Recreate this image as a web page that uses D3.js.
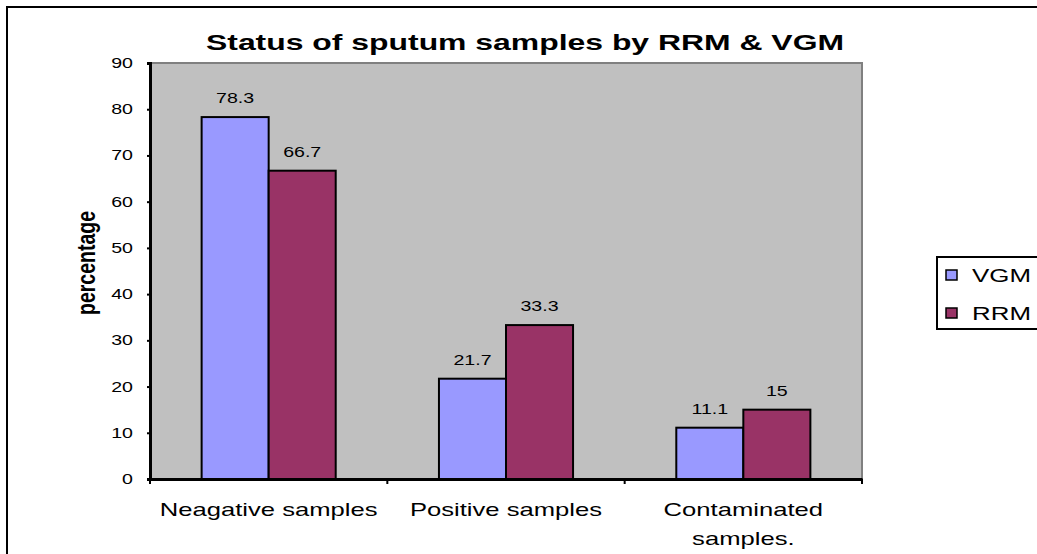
<!DOCTYPE html>
<html>
<head>
<meta charset="utf-8">
<script src="https://cdn.jsdelivr.net/npm/d3@7"></script>
<style>
    body { margin: 0; background: #fff; }
    text { font-family: "Liberation Sans", Arial, sans-serif; fill: #000; }
</style>
</head>
<body>
<div id="chart"></div>
<script>

var categories = ["Neagative samples", "Positive samples", "Contaminated samples."];
var seriesNames = ["VGM", "RRM"];
var vgmValues = [78.3, 21.7, 11.1];
var rrmValues = [66.7, 33.3, 15];
var yTicks = [0, 10, 20, 30, 40, 50, 60, 70, 80, 90];
var colors = ["#9999FF", "#993366"];

// the picture is stretched sideways, so text gets the same stretch
var sx = 1.4;

var plot = {left: 150, top: 63, right: 862, bottom: 479};

var svg = d3.select("#chart")
    .append("svg")
    .attr("width", 1037)
    .attr("height", 554);

// outer frame (cut off at right / bottom)
svg.append("rect")
    .attr("x", 7)
    .attr("y", 7)
    .attr("width", 1060)
    .attr("height", 580)
    .style("fill", "#fff")
    .style("stroke", "#000")
    .style("stroke-width", 2);

function label(g, txt, x, y, size, anchor, bold) {
    return g.append("text")
        .attr("transform", "translate(" + x + "," + y + ") scale(" + sx + ",1)")
        .attr("text-anchor", anchor)
        .style("font-size", size + "px")
        .style("font-weight", bold ? "bold" : "normal")
        .text(txt);
}

var xScale = d3.scaleBand()
    .domain(categories)
    .range([plot.left, plot.right]);

var xInner = d3.scaleBand()
    .domain(seriesNames)
    .range([0, xScale.bandwidth()])
    .paddingOuter(0.77);

var yScale = d3.scaleLinear()
    .domain([0, 90])
    .range([plot.bottom, plot.top]);

// plot area
svg.append("rect")
    .attr("x", plot.left)
    .attr("y", plot.top)
    .attr("width", plot.right - plot.left)
    .attr("height", plot.bottom - plot.top)
    .style("fill", "#C0C0C0")
    .style("stroke", "#808080")
    .style("stroke-width", 2);

// bars
var data = categories.map(function(c, i) {
    return {cat: c, values: [vgmValues[i], rrmValues[i]]};
});

var groups = svg.selectAll("g.group")
    .data(data)
    .enter()
    .append("g")
    .attr("class", "group")
    .attr("transform", function(d) { return "translate(" + xScale(d.cat) + ",0)"; });

groups.selectAll("rect")
    .data(function(d) { return d.values.map(function(v, j) { return {name: seriesNames[j], value: v, j: j}; }); })
    .enter()
    .append("rect")
    .attr("x", function(d) { return xInner(d.name); })
    .attr("y", function(d) { return yScale(d.value); })
    .attr("width", xInner.bandwidth())
    .attr("height", function(d) { return plot.bottom - yScale(d.value); })
    .style("fill", function(d) { return colors[d.j]; })
    .style("stroke", "#000")
    .style("stroke-width", 2);

groups.each(function(d) {
    var g = d3.select(this);
    d.values.forEach(function(v, j) {
        label(g, String(v), xInner(seriesNames[j]) + xInner.bandwidth() / 2, yScale(v) - 14, 14, "middle", false);
    });
});

// y axis
var yAxis = d3.axisLeft(yScale)
    .tickValues(yTicks)
    .tickSize(3)
    .tickPadding(12);

var yG = svg.append("g")
    .attr("class", "axis y-axis")
    .attr("transform", "translate(" + plot.left + ",0)")
    .call(yAxis);
yG.select(".domain").style("stroke", "#000").style("stroke-width", 3);
yG.selectAll(".tick line").style("stroke", "#000").style("stroke-width", 2);
yG.selectAll(".tick text").remove();
yTicks.forEach(function(t) {
    label(svg, t, 133, yScale(t) + 5, 14, "end", false);
});

// x axis
var xAxis = d3.axisBottom(xScale)
    .tickSize(0)
    .tickFormat("");

var xG = svg.append("g")
    .attr("class", "axis x-axis")
    .attr("transform", "translate(0," + plot.bottom + ")")
    .call(xAxis);
xG.select(".domain").style("stroke", "#000").style("stroke-width", 3);

var bounds = [plot.left].concat(categories.map(function(c) { return xScale(c) + xScale.bandwidth(); }));
bounds.forEach(function(b) {
    xG.append("line")
        .attr("x1", b).attr("x2", b)
        .attr("y1", 0).attr("y2", 5)
        .style("stroke", "#000")
        .style("stroke-width", 2);
});

categories.forEach(function(c) {
    var cx = xScale(c) + xScale.bandwidth() / 2;
    if (c == "Contaminated samples.") {
        label(svg, "Contaminated", cx, 516, 18.3, "middle", false);
        label(svg, "samples.", cx, 545, 18.3, "middle", false);
    } else {
        label(svg, c, cx, 516, 18.3, "middle", false);
    }
});

// title
label(svg, "Status of sputum samples by RRM & VGM", 525, 50, 22.8, "middle", true);

// y label
svg.append("text")
    .attr("transform", "translate(95,263) scale(1.35,1) rotate(-90)")
    .attr("text-anchor", "middle")
    .style("font-size", "19.5px")
    .style("font-weight", "bold")
    .text("percentage");

// legend
var legend = svg.append("g")
    .attr("transform", "translate(937,257)");

legend.append("rect")
    .attr("width", 120)
    .attr("height", 72)
    .style("fill", "#fff")
    .style("stroke", "#000")
    .style("stroke-width", 2);

seriesNames.forEach(function(s, i) {
    legend.append("rect")
        .attr("x", 9)
        .attr("y", 13 + i * 38)
        .attr("width", 11)
        .attr("height", 10)
        .style("fill", colors[i])
        .style("stroke", "#000")
        .style("stroke-width", 1.5);
    label(legend, s, 35, 25 + i * 38, 18.5, "start", false);
});

</script>
</body>
</html>
